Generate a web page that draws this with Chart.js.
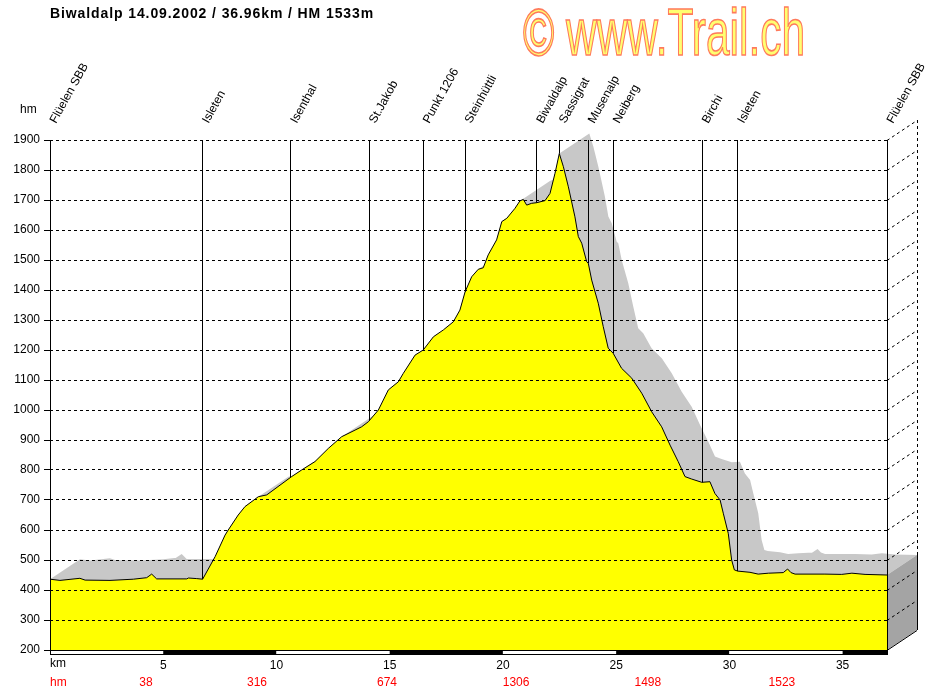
<!DOCTYPE html>
<html>
<head>
<meta charset="utf-8">
<script src="https://cdn.jsdelivr.net/npm/chart.js@4/dist/chart.umd.min.js"></script>
<style>
    body { margin: 0; background: #fff; }
    canvas { display: block; }
</style>
</head>
<body>
<canvas id="profileChart" width="937" height="690"></canvas>
<script>
// Elevation profile Biwaldalp 14.09.2002

// distance along the route (km)
const distKm = [0, 0.44, 1.32, 1.55, 2.65, 3.68, 4.27, 4.49, 4.71, 6.04,
    6.11, 6.48, 6.74, 7.29, 7.73, 7.87, 8.31, 8.61, 9.20, 9.57,
    10.67, 11.11, 11.70, 12.29, 12.88, 13.47, 13.76, 14.06, 14.50, 14.94,
    15.38, 15.60, 16.12, 16.48, 16.93, 17.37, 17.81, 18.10, 18.33, 18.62,
    18.91, 19.13, 19.35, 19.72, 19.95, 20.17, 20.53, 20.75, 20.90, 21.05,
    21.27, 21.49, 21.86, 22.08, 22.30, 22.49, 22.67, 22.89, 23.18, 23.33,
    23.48, 23.70, 23.77, 23.92, 24.21, 24.43, 24.65, 24.87, 25.24, 25.69,
    26.13, 26.57, 27.01, 27.38, 27.74, 28.04, 28.33, 28.78, 29.14, 29.36,
    29.59, 29.73, 29.95, 30.10, 30.22, 30.37, 30.91, 31.27, 31.72, 32.38,
    32.57, 32.72, 32.90, 34.22, 34.96, 35.41, 35.99, 36.96];

// elevation (m)
const elevM = [436, 432, 439, 433, 432, 436, 441, 453, 437, 437,
    440, 438, 436, 511, 583, 600, 650, 678, 711, 717,
    778, 800, 828, 872, 911, 933, 944, 961, 1000, 1067,
    1094, 1122, 1183, 1200, 1244, 1267, 1294, 1333, 1394, 1444,
    1469, 1474, 1517, 1567, 1628, 1639, 1672, 1697, 1702, 1683,
    1689, 1691, 1698, 1722, 1789, 1855, 1811, 1744, 1644, 1578,
    1556, 1494, 1489, 1433, 1356, 1278, 1206, 1189, 1139, 1106,
    1056, 994, 944, 883, 828, 778, 770, 759, 761, 722,
    700, 656, 589, 500, 467, 463, 459, 453, 456, 458,
    470, 458, 453, 453, 452, 456, 452, 450];

// axis ticks
const xTicks = [5, 10, 15, 20, 25, 30, 35];

// waypoints
const waypointNames = ['Flüelen SBB', 'Isleten', 'Isenthal', 'St.Jakob', 'Punkt 1206', 'Steinhüttli',
    'Biwaldalp', 'Sassigrat', 'Musenalp', 'Neiberg', 'Birchi', 'Isleten', 'Flüelen SBB'];
const waypointKm = [0, 6.73, 10.63, 14.10, 16.48, 18.33, 21.49, 22.49, 23.77, 24.87, 28.80, 30.37, 36.96];

// cumulated climb (hm) shown in the red row
const climbKm = [4.24, 9.14, 14.88, 20.58, 26.40, 32.32];
const climbM = [38, 316, 674, 1306, 1498, 1523];

const FONT = '"Liberation Sans", Arial, sans-serif';
const DEPTH_X = 30;
const DEPTH_Y = -20;

function crisp(v) {
    return Math.round(v - 0.5) + 0.5;
}

// linear interpolation of the profile
function elevAt(km) {
    for (let i = 1; i < distKm.length; i++) {
        if (km <= distKm[i]) {
            const t = (km - distKm[i - 1]) / (distKm[i] - distKm[i - 1]);
            return elevM[i - 1] + t * (elevM[i] - elevM[i - 1]);
        }
    }
    return elevM[elevM.length - 1];
}

const profilePlugin = {
    id: 'profile3d',

    // grey top surface of the 3d ribbon
    beforeDatasetsDraw(chart) {
        const { ctx, scales: { x, y } } = chart;
        const pts = distKm.map((d, i) => [x.getPixelForValue(d), y.getPixelForValue(elevM[i])]);
        ctx.save();
        ctx.fillStyle = '#c8c8c8';
        ctx.beginPath();
        // back profile, filled down to the floor
        ctx.moveTo(pts[0][0], pts[0][1]);
        pts.forEach(p => ctx.lineTo(p[0] + DEPTH_X, p[1] + DEPTH_Y));
        ctx.lineTo(pts[pts.length - 1][0], pts[pts.length - 1][1]);
        ctx.lineTo(x.right, y.bottom);
        ctx.lineTo(x.left, y.bottom);
        ctx.closePath();
        // sweep of every segment, same orientation so nonzero fill unions them
        for (let i = 0; i < pts.length - 1; i++) {
            const a = pts[i], b = pts[i + 1];
            let quad = [a, b, [b[0] + DEPTH_X, b[1] + DEPTH_Y], [a[0] + DEPTH_X, a[1] + DEPTH_Y]];
            let area = 0;
            for (let k = 0; k < 4; k++) {
                const p = quad[k], q = quad[(k + 1) % 4];
                area += p[0] * q[1] - q[0] * p[1];
            }
            if (area < 0) quad = quad.reverse();
            ctx.moveTo(quad[0][0], quad[0][1]);
            for (let k = 1; k < 4; k++) ctx.lineTo(quad[k][0], quad[k][1]);
            ctx.closePath();
        }
        ctx.fill('nonzero');
        ctx.restore();
    },

    afterDatasetsDraw(chart) {
        const { ctx, chartArea: area, scales: { x, y } } = chart;
        ctx.save();
        ctx.lineWidth = 1;
        ctx.strokeStyle = '#000';

        // waypoint markers
        waypointKm.forEach(km => {
            if (km <= 0 || km >= 36.96) return;
            const px = crisp(x.getPixelForValue(km));
            ctx.beginPath();
            ctx.moveTo(px, area.top);
            ctx.lineTo(px, y.getPixelForValue(elevAt(km)));
            ctx.stroke();
        });

        // right side face
        const endY = y.getPixelForValue(elevM[elevM.length - 1]);
        ctx.fillStyle = '#a4a4a4';
        ctx.beginPath();
        ctx.moveTo(area.right, endY);
        ctx.lineTo(area.right + DEPTH_X, endY + DEPTH_Y);
        ctx.lineTo(area.right + DEPTH_X, area.bottom + DEPTH_Y);
        ctx.lineTo(area.right, area.bottom);
        ctx.closePath();
        ctx.fill();

        // grid lines, tick marks and the 3d diagonals
        y.ticks.forEach(t => {
            const py = crisp(y.getPixelForValue(t.value));
            ctx.setLineDash([]);
            ctx.beginPath();
            ctx.moveTo(area.left - 6, py);
            ctx.lineTo(area.left, py);
            ctx.stroke();
            ctx.setLineDash(t.value === 200 ? [] : [3, 3]);
            if (t.value !== 200) {
                ctx.beginPath();
                ctx.moveTo(area.left, py);
                ctx.lineTo(area.right, py);
                ctx.stroke();
            }
            ctx.beginPath();
            ctx.moveTo(area.right, py);
            ctx.lineTo(area.right + DEPTH_X, py + DEPTH_Y);
            ctx.stroke();
        });

        // back vertical edge
        const backX = crisp(area.right + DEPTH_X);
        ctx.setLineDash([3, 3]);
        ctx.beginPath();
        ctx.moveTo(backX, area.top + DEPTH_Y);
        ctx.lineTo(backX, endY + DEPTH_Y);
        ctx.stroke();
        ctx.setLineDash([]);
        ctx.beginPath();
        ctx.moveTo(backX, endY + DEPTH_Y);
        ctx.lineTo(backX, area.bottom + DEPTH_Y);
        ctx.stroke();

        // axis lines
        ctx.beginPath();
        ctx.moveTo(crisp(area.left), area.top);
        ctx.lineTo(crisp(area.left), area.bottom);
        ctx.moveTo(crisp(area.right), area.top);
        ctx.lineTo(crisp(area.right), area.bottom);
        ctx.stroke();

        // km band: alternating white / black every 5 km
        for (let km = 0; km < 36.96; km += 5) {
            const x0 = x.getPixelForValue(km);
            const x1 = x.getPixelForValue(Math.min(km + 5, 36.96));
            ctx.fillStyle = (km / 5) % 2 === 0 ? '#fff' : '#000';
            ctx.fillRect(x0, area.bottom, x1 - x0, 4);
        }
        ctx.strokeRect(crisp(area.left), crisp(area.bottom), area.right - area.left, 4);
        ctx.restore();
    },

    afterDraw(chart) {
        const { ctx, chartArea: area, scales: { x } } = chart;
        ctx.save();

        // title
        ctx.fillStyle = '#000';
        ctx.font = 'bold 14px ' + FONT;
        ctx.textBaseline = 'alphabetic';
        ctx.letterSpacing = '0.9px';
        ctx.fillText('Biwaldalp 14.09.2002 / 36.96km / HM 1533m', 50, 18);
        ctx.letterSpacing = '0px';

        // axis captions
        ctx.font = '12px ' + FONT;
        ctx.textBaseline = 'middle';
        ctx.fillText('hm', 20, 110);
        ctx.fillText('km', area.left, 664);
        ctx.fillStyle = '#ff0000';
        ctx.fillText('hm', area.left, 683);
        ctx.textAlign = 'center';
        climbKm.forEach((km, i) => {
            ctx.fillText(String(climbM[i]), x.getPixelForValue(km), 683);
        });

        // waypoint names
        ctx.fillStyle = '#000';
        ctx.textAlign = 'left';
        ctx.textBaseline = 'alphabetic';
        waypointKm.forEach((km, i) => {
            ctx.save();
            ctx.translate(x.getPixelForValue(km) + 6, 124);
            ctx.rotate(-61 * Math.PI / 180);
            ctx.fillText(waypointNames[i], 0, 0);
            ctx.restore();
        });

        // watermark
        ctx.font = '67px ' + FONT;
        const wm = '\u00A9 www.Trail.ch';
        const w = ctx.measureText(wm).width;
        ctx.translate(523, 55);
        ctx.scale(282 / w, 1);
        ctx.fillStyle = '#ffff70';
        ctx.fillText(wm, 0, 0);
        ctx.lineWidth = 1.6;
        ctx.strokeStyle = '#ff7a5c';
        ctx.strokeText(wm, 0, 0);
        ctx.restore();
    }
};

const ctx = document.getElementById('profileChart').getContext('2d');
new Chart(ctx, {
    type: 'line',
    data: {
        datasets: [{
            data: distKm.map((d, i) => ({ x: d, y: elevM[i] })),
            borderColor: '#000',
            borderWidth: 1,
            backgroundColor: '#ffff00',
            fill: 'start',
            pointRadius: 0,
            tension: 0
        }]
    },
    options: {
        responsive: false,
        animation: false,
        layout: {
            padding: { top: 140, right: 50, left: 0, bottom: 0 }
        },
        plugins: {
            legend: { display: false },
            tooltip: { enabled: false }
        },
        scales: {
            x: {
                type: 'linear',
                min: 0,
                max: 36.96,
                afterFit: s => { s.height = 40; },
                afterBuildTicks: s => { s.ticks = xTicks.map(v => ({ value: v })); },
                grid: { display: false, drawTicks: false },
                border: { display: false },
                ticks: {
                    padding: 8,
                    maxRotation: 0,
                    autoSkip: false,
                    color: '#000',
                    font: { family: FONT, size: 12 },
                    callback: v => String(v)
                }
            },
            y: {
                min: 200,
                max: 1900,
                afterFit: s => { s.width = 50; },
                grid: { display: false, drawTicks: false },
                border: { display: false },
                ticks: {
                    stepSize: 100,
                    padding: 10,
                    color: '#000',
                    font: { family: FONT, size: 12 },
                    callback: v => String(v)
                }
            }
        }
    },
    plugins: [profilePlugin]
});
</script>
</body>
</html>
